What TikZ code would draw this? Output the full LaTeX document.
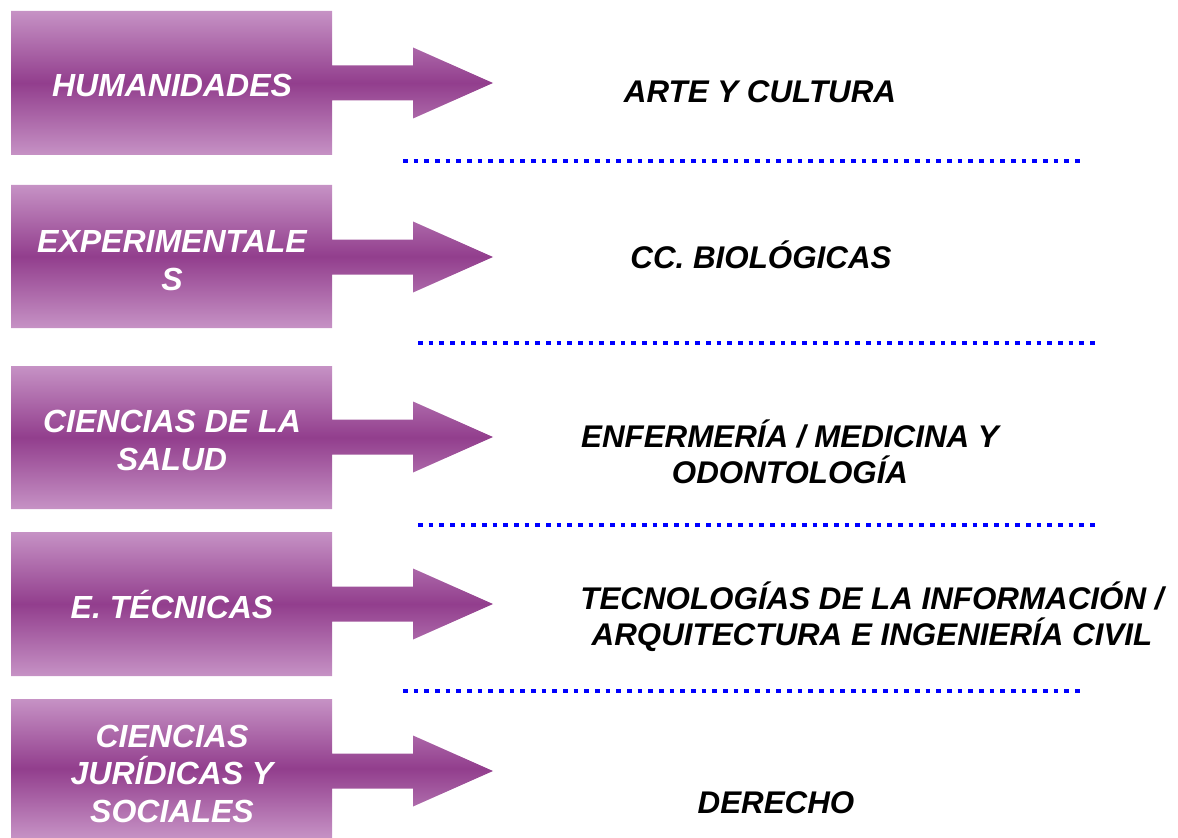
\documentclass[tikz,border=0pt]{standalone}
\usepackage{fontspec}
\setmainfont{Liberation Sans}
\definecolor{catlight}{RGB}{198,146,197}
\definecolor{catdark}{RGB}{146,62,141}
\tikzset{
  catshape/.style={top color=catlight, bottom color=catlight, middle color=catdark},
  catlabel/.style={anchor=base, align=center, text=white, font=\fontsize{24}{28}\selectfont\bfseries\itshape},
  sublabel/.style={anchor=base, align=center, text=black, font=\fontsize{23.5}{27}\selectfont\bfseries\itshape},
  sepline/.style={blue, line width=3.6pt, dash pattern=on 3.6pt off 4.4pt},
}
\begin{document}
\begin{tikzpicture}[x=0.75pt, y=-0.75pt]
\useasboundingbox (0,0) rectangle (1178,838);

\shade[catshape] (11,11) -- (332,11) -- (332,65.5) -- (413,65.5) -- (413,47.5) -- (493,83) -- (413,118.5) -- (413,100.5) -- (332,100.5) -- (332,155) -- (11,155) -- cycle;
\node[catlabel] (hum) at (172,96.5) {HUMANIDADES};
\node[sublabel] (arte) at (760,102.5) {ARTE Y CULTURA};
\draw[sepline] (403,161) -- (1080,161);

\shade[catshape] (11,185) -- (332,185) -- (332,239.5) -- (413,239.5) -- (413,221.5) -- (493,257) -- (413,292.5) -- (413,274.5) -- (332,274.5) -- (332,328) -- (11,328) -- cycle;
\node[catlabel] (exp) at (172,290) {EXPERIMENTALE\\S};
\node[sublabel] (bio) at (761,268) {CC. BIOLÓGICAS};
\draw[sepline] (418,343) -- (1095,343);

\shade[catshape] (11,366) -- (332,366) -- (332,419.5) -- (413,419.5) -- (413,401.5) -- (493,437) -- (413,472.5) -- (413,454.5) -- (332,454.5) -- (332,509) -- (11,509) -- cycle;
\node[catlabel] (salud) at (172,470) {CIENCIAS DE LA\\SALUD};
\node[sublabel] (medi) at (790,483) {ENFERMERÍA / MEDICINA Y\\ODONTOLOGÍA};
\draw[sepline] (418,525) -- (1095,525);

\shade[catshape] (11,532) -- (332,532) -- (332,586.5) -- (413,586.5) -- (413,568.5) -- (493,604) -- (413,639.5) -- (413,621.5) -- (332,621.5) -- (332,676) -- (11,676) -- cycle;
\node[catlabel] (tec) at (172,618.5) {E. TÉCNICAS};
\node[sublabel] (info) at (872,645) {TECNOLOGÍAS DE LA INFORMACIÓN /\\ARQUITECTURA E INGENIERÍA CIVIL};
\draw[sepline] (403,691) -- (1080,691);

\shade[catshape] (11,699) -- (332,699) -- (332,753.5) -- (413,753.5) -- (413,735.5) -- (493,771) -- (413,806.5) -- (413,788.5) -- (332,788.5) -- (332,838) -- (11,838) -- cycle;
\node[catlabel] (jur) at (172,822) {CIENCIAS\\JURÍDICAS Y\\SOCIALES};
\node[sublabel] (der) at (776,813) {DERECHO};

\end{tikzpicture}
\end{document}
